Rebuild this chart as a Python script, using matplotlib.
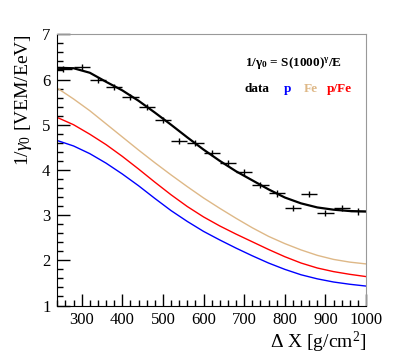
#Importando modulos
import matplotlib
matplotlib.use("Agg")
import matplotlib.pyplot as plt
from matplotlib.ticker import MultipleLocator


plt.rcParams['font.family'] = ['Liberation Serif', 'DejaVu Serif']
plt.rcParams['mathtext.fontset'] = 'custom'
plt.rcParams['mathtext.rm'] = 'Liberation Serif'
plt.rcParams['mathtext.it'] = 'Liberation Serif:italic'
plt.rcParams['mathtext.bf'] = 'Liberation Serif:bold'


#datos medidos
xDatos = [255, 300, 340, 380, 420, 460, 500, 540, 580, 620, 660, 700, 740, 780, 820, 860, 900, 940, 980]
yDatos = [6.23, 6.27, 5.99, 5.84, 5.62, 5.39, 5.10, 4.64, 4.59, 4.37, 4.16, 3.96, 3.67, 3.48, 3.16, 3.47, 3.04, 3.15, 3.08]
xErr = 20
yErr = 0.07

#curvas
xCurva = [240, 280, 320, 360, 400, 440, 480, 520, 560, 600, 640, 680, 720, 760, 800, 840, 880, 920, 960, 1000]
ajuste = [6.26, 6.25, 6.15, 5.95, 5.76, 5.53, 5.27, 5.00, 4.72, 4.45, 4.20, 3.97, 3.77, 3.57, 3.39, 3.26, 3.17, 3.12, 3.09, 3.08]
curvaFe = [5.81, 5.57, 5.31, 5.02, 4.73, 4.44, 4.16, 3.89, 3.63, 3.38, 3.15, 2.93, 2.72, 2.53, 2.37, 2.23, 2.11, 2.02, 1.96, 1.92]
curvaPFe = [5.16, 5.00, 4.79, 4.56, 4.30, 4.02, 3.73, 3.45, 3.19, 2.96, 2.76, 2.58, 2.41, 2.24, 2.08, 1.94, 1.83, 1.75, 1.69, 1.64]
curvaP = [4.65, 4.53, 4.36, 4.15, 3.91, 3.65, 3.37, 3.10, 2.86, 2.64, 2.45, 2.27, 2.10, 1.94, 1.80, 1.68, 1.59, 1.52, 1.47, 1.43]

colorFe = "#DEB887"


fig = plt.figure(figsize=(4.07, 3.54), dpi=100)
ax = fig.add_axes([0.1408, 0.137, 0.7585, 0.766])

ax.plot(xCurva, curvaFe, color=colorFe, lw=1.0)
ax.plot(xCurva, curvaPFe, color="red", lw=1.0)
ax.plot(xCurva, curvaP, color="blue", lw=1.0)
ax.plot(xCurva, ajuste, color="black", lw=1.6)

ax.errorbar(xDatos, yDatos, xerr=xErr, yerr=yErr, fmt='none', ecolor="black", elinewidth=1.0, capsize=0)

ax.set_xlim(240, 1000)
ax.set_ylim(1, 7)

ax.xaxis.set_major_locator(MultipleLocator(100))
ax.xaxis.set_minor_locator(MultipleLocator(20))
ax.yaxis.set_major_locator(MultipleLocator(1))
ax.yaxis.set_minor_locator(MultipleLocator(0.2))

ax.tick_params(which='both', direction='in', top=False, right=False, labelsize=12, colors="black")
ax.tick_params(which='major', length=9, width=1.0, pad=5)
ax.tick_params(which='minor', length=4.5, width=1.0)

for lado in ['top', 'right']:
    ax.spines[lado].set_color("#999999")
for lado in ['left', 'bottom']:
    ax.spines[lado].set_color("black")

ax.set_xlabel(r"$\Delta$ X [g/cm$^2$]", fontsize=14, loc='right', labelpad=1)
ax.set_ylabel(r"1/$\gamma_0$ [VEM/EeV]", fontsize=14, loc='top', labelpad=6)

#leyenda de texto
ax.text(0.607, 0.893, r"$\mathbf{1/\gamma_0}$ = S(1000)$^\mathbf{\gamma}$/E", transform=ax.transAxes,
        fontsize=9.5, fontweight='bold', va='center', ha='left')
ax.text(0.607, 0.80, "data", transform=ax.transAxes, fontsize=9.5, fontweight='bold', va='center', ha='left', color="black")
ax.text(0.733, 0.80, "p", transform=ax.transAxes, fontsize=9.5, fontweight='bold', va='center', ha='left', color="blue")
ax.text(0.797, 0.80, "Fe", transform=ax.transAxes, fontsize=9.5, fontweight='bold', va='center', ha='left', color=colorFe)
ax.text(0.874, 0.80, "p/Fe", transform=ax.transAxes, fontsize=9.5, fontweight='bold', va='center', ha='left', color="red")

fig.savefig("out.png", dpi=100)
